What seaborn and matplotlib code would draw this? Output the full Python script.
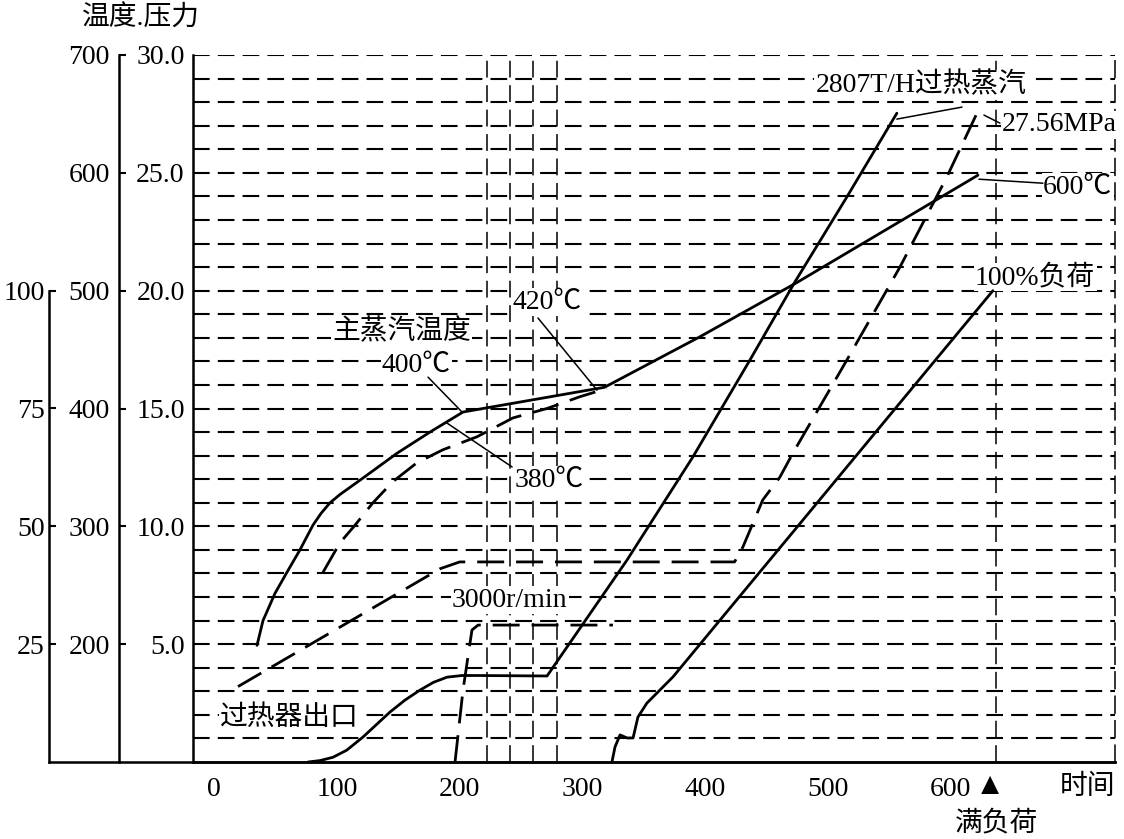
import numpy as np
import matplotlib
matplotlib.use("Agg")
import matplotlib.pyplot as plt
import seaborn as sns

# ---------------- data ----------------
# time axis ticks
time_ticks = [0, 100, 200, 300, 400, 500, 600]
press_ticks = [5, 10, 15, 20, 25, 30]
temp_ticks = [200, 300, 400, 500, 600, 700]
load_ticks = [25, 50, 75, 100]

# main steam temperature (solid, degC)
mst_t = [34.8, 39.7, 49.4, 59.2, 69.8, 80.4, 87.0, 94.3, 102.4, 121.2, 148.9, 175.8, 202.7, 219.0, 318.0, 396.0, 475.0, 622.4]
mst_T = [199, 220, 243, 261, 280, 301, 311, 320, 327, 341, 362, 380, 397, 400, 418, 461, 507, 598]

# superheater outlet temperature (dashed, degC)
sho_t = [88.6, 102.4, 114.7, 129.3, 145.6, 165.2, 186.4, 214.1, 243.4, 271.1, 298.0, 320.0]
sho_T = [261, 286, 301, 320, 338, 354, 365, 376, 392, 400, 410, 417]

# main steam pressure (dashed, MPa)
prs_t = [19.3, 184.0, 200.0, 424.0, 430.8, 447.0, 461.0, 471.6, 515.6, 558.8, 597.0, 621.6]
prs_P = [3.2, 8.2, 8.49, 8.49, 9.12, 11.12, 12.09, 13.11, 17.06, 21.0, 24.82, 27.53]

# superheated steam flow (solid, drawn on the pressure scale)
flw_t = [76.4, 86.1, 96.7, 107.9, 121.2, 132.4, 143.2, 155.5, 167.6, 178.6, 189.7, 201.9, 215.0,
         271.2, 336.4, 390.0, 436.6, 473.1, 515.5, 556.3]
flw_P = [0.0, 0.06, 0.2, 0.5, 1.06, 1.6, 2.12, 2.63, 3.05, 3.38, 3.6, 3.67, 3.67,
         3.65, 8.57, 12.94, 17.06, 20.36, 23.97, 27.53]

# turbine speed (dashed, drawn on the pressure scale)
spd_t = [196.2, 202.7, 210.0, 215.0, 324.9]
spd_P = [0.0, 3.05, 5.6, 5.81, 5.81]

# unit load (solid, %)
lod_t = [324.1, 326.6, 330.7, 336.4, 341.3, 345.3, 352.6, 373.8, 634.6]
lod_L = [0.0, 3.2, 5.75, 5.1, 5.1, 9.55, 12.5, 18.05, 100.0]

# vertical dashed reference lines (time)
vline_t = [222, 241, 260, 279, 637]

# ---------------- style ----------------
sns.set_theme(style="white")
plt.rcParams['font.family'] = ['Liberation Serif', 'Noto Sans CJK SC', 'DejaVu Sans']
plt.rcParams['axes.unicode_minus'] = False
FS = 20

W, H = 1124, 839
fig = plt.figure(figsize=(11.24, 8.39), dpi=100)
fig.patch.set_facecolor('white')
b = 77 / H
h = 707 / H

# base axes: the long bottom line under all three y axes
ax_base = fig.add_axes([49 / W, b, 1066 / W, h])
ax_base.set_facecolor('none')
ax_base.set_xlim(0, 1)
ax_base.set_ylim(0, 1)
for s in ['left', 'right', 'top']:
    ax_base.spines[s].set_visible(False)
ax_base.spines['bottom'].set_color('black')
ax_base.spines['bottom'].set_linewidth(1.8)
ax_base.set_yticks([])
ax_base.set_xticks([43 / 1066, 97 / 1066])
ax_base.set_xticklabels([])
ax_base.tick_params(axis='x', direction='in', length=10, width=1.5, color='black')

# main (pressure) axes
ax = fig.add_axes([193 / W, b, 922 / W, h])
ax.set_facecolor('none')
ax.set_xlim(-17.36, 734.1)
ax.set_ylim(0, 30)
ax.spines['top'].set_visible(False)
ax.spines['left'].set_color('black')
ax.spines['left'].set_linewidth(1.8)
ax.spines['bottom'].set_color('black')
ax.spines['bottom'].set_linewidth(1.8)
ax.spines['right'].set_color('black')
ax.spines['right'].set_linewidth(1.1)
ax.spines['right'].set_linestyle((0, (11, 5)))

ax.set_yticks(press_ticks)
ax.set_yticklabels([f"{v:.1f}" for v in press_ticks], fontsize=FS)
ax.set_yticks(np.arange(1, 30), minor=True)
ax.tick_params(axis='y', which='both', length=0, pad=6, colors='black')
ax.grid(True, axis='y', which='both', color='black', lw=1.5, linestyle=(0, (8, 3.9)))
ax.grid(False, axis='x')

ax.set_xticks(time_ticks)
ax.set_xticklabels([str(v) for v in time_ticks], fontsize=FS)
ax.set_xticks([400, 500, 600], minor=True)
ax.tick_params(axis='x', which='major', length=0, pad=11, colors='black')
ax.tick_params(axis='x', which='minor', direction='in', length=7, width=1.5, color='black')

for t in vline_t:
    ax.axvline(t, color='black', lw=1.1, linestyle=(0, (11, 5)), zorder=1)

# temperature axis
ax_T = ax.twinx()
ax_T.set_ylim(100, 700)
ax_T.yaxis.set_ticks_position('left')
ax_T.yaxis.set_label_position('left')
for s in ['right', 'top', 'bottom']:
    ax_T.spines[s].set_visible(False)
ax_T.spines['left'].set_visible(True)
ax_T.spines['left'].set_position(('axes', -74 / 922))
ax_T.spines['left'].set_color('black')
ax_T.spines['left'].set_linewidth(1.8)
ax_T.set_yticks(temp_ticks)
ax_T.set_yticklabels([str(v) for v in temp_ticks], fontsize=FS)
ax_T.tick_params(axis='y', direction='in', length=5, width=1.5, pad=6.5, colors='black')

# load axis
ax_L = ax.twinx()
ax_L.set_ylim(0, 150)
ax_L.yaxis.set_ticks_position('left')
ax_L.yaxis.set_label_position('left')
for s in ['right', 'top', 'bottom']:
    ax_L.spines[s].set_visible(False)
ax_L.spines['left'].set_visible(True)
ax_L.spines['left'].set_position(('axes', -144 / 922))
ax_L.spines['left'].set_bounds(0, 100)
ax_L.spines['left'].set_color('black')
ax_L.spines['left'].set_linewidth(1.8)
ax_L.set_yticks(load_ticks)
ax_L.set_yticklabels([str(v) for v in load_ticks], fontsize=FS)
ax_L.tick_params(axis='y', direction='in', length=5, width=1.5, pad=3, colors='black')

# ---------------- curves ----------------
LW = 2.0
DASH = (0, (9.7, 4.3))
common = dict(color='black', lw=LW, sort=False, estimator=None, legend=False)
sns.lineplot(x=mst_t, y=mst_T, ax=ax_T, **common)
sns.lineplot(x=sho_t, y=sho_T, ax=ax_T, linestyle=DASH, **common)
sns.lineplot(x=prs_t, y=prs_P, ax=ax, linestyle=DASH, **common)
sns.lineplot(x=flw_t, y=flw_P, ax=ax, **common)
sns.lineplot(x=spd_t, y=spd_P, ax=ax, linestyle=DASH, **common)
sns.lineplot(x=lod_t, y=lod_L, ax=ax_L, **common)

for a in (ax, ax_T, ax_L):
    a.set_xlabel('')
    a.set_ylabel('')
ax.set_xlim(-17.36, 734.1)
ax.set_ylim(0, 30)
ax_T.set_ylim(100, 700)
ax_L.set_ylim(0, 150)

# ---------------- annotations ----------------
box = dict(facecolor='white', edgecolor='none', pad=1.0)
def label(x, y, s, ha='left', bbox=True, size=FS):
    ax.text(x, y, s, ha=ha, va='center', fontsize=size, color='black',
            bbox=box if bbox else None, zorder=5, clip_on=False)

def leader(x0, y0, x1, y1):
    ax.annotate('', xy=(x1, y1), xytext=(x0, y0),
                arrowprops=dict(arrowstyle='-', lw=1.1, color='black', shrinkA=0, shrinkB=0),
                zorder=6)

label(576, 28.72, "2807T/H过热蒸汽", ha='center')
label(642, 27.03, "27.56MPa")
label(675.6, 24.4, "600℃")
label(620, 20.58, "100%负荷")
label(96, 18.24, "主蒸汽温度")
label(136.6, 16.84, "400℃")
label(245, 11.96, "380℃")
label(243.4, 19.52, "420℃")
label(193.7, 6.87, "3000r/min")
label(4.6, 1.87, "过热器出口")
label(632.2, -1.06, "▲", ha='center', bbox=False, size=22)
label(711.5, -1.06, "时间", ha='center', bbox=False)
label(637.8, -2.6, "满负荷", ha='center', bbox=False)

leader(609.4, 27.79, 556.3, 27.28)
leader(627.3, 27.45, 640.3, 27.11)
leader(623.2, 24.73, 675.3, 24.56)
leader(174.2, 16.33, 201.9, 14.85)
leader(189.7, 14.38, 242.7, 12.52)
leader(263.8, 18.84, 311.9, 15.78)

fig.text(141 / W, 1 - 19 / H, "温度.压力", ha='center', va='center', fontsize=FS, color='black')

fig.savefig("out.png", dpi=100, facecolor='white')
